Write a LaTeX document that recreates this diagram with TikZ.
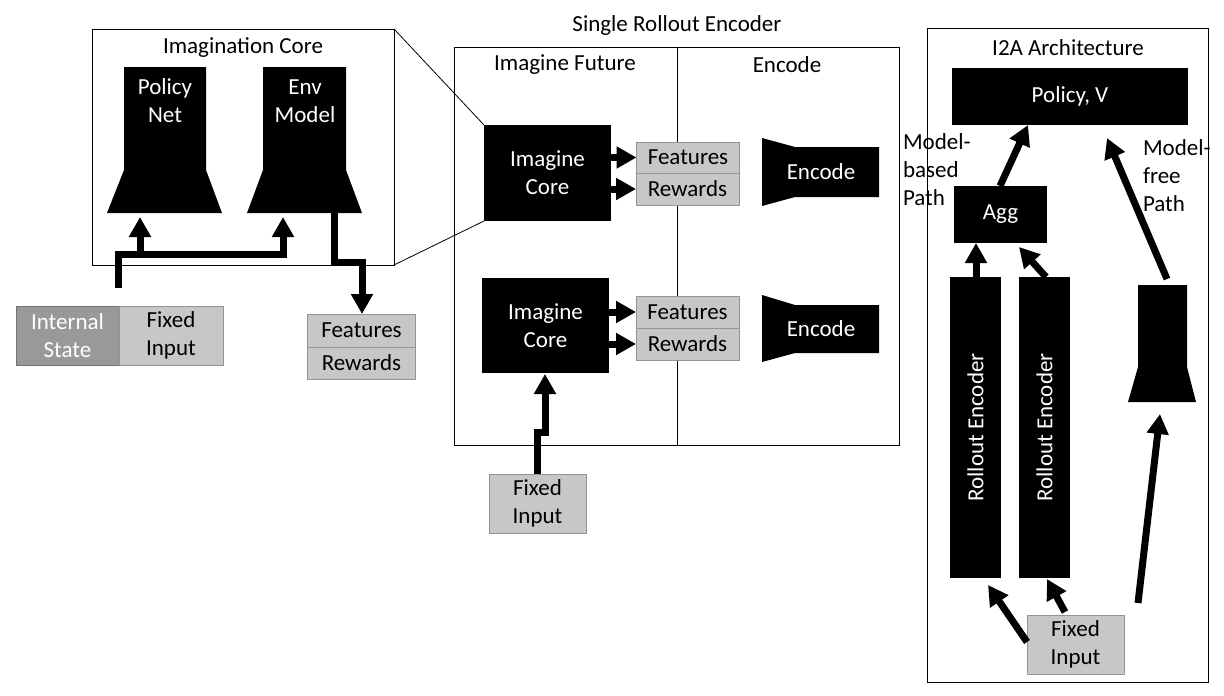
\documentclass[tikz,border=0pt]{standalone}
\usepackage{fontspec}
\setmainfont{Carlito}
\usetikzlibrary{arrows.meta}
\begin{document}
\begin{tikzpicture}[x=1pt,y=-1pt,
  every node/.style={font=\fontsize{23}{28}\selectfont, align=center, inner sep=0pt, outer sep=0pt},
  blk/.style={fill=black, draw=none, text=white},
  frame/.style={draw=black, line width=1pt},
  grayin/.style={fill=black!22, draw=black!42, line width=1pt, text=black},
  darkin/.style={fill=black!40, draw=black!55, line width=1pt, text=white},
  arr/.style={line width=7pt, draw=black, -{Triangle[width=21pt,length=20pt]}},
  zoomline/.style={draw=black, line width=0.8pt}
]
\useasboundingbox (0,0) rectangle (1224,696);

% ---------------- Imagination Core ----------------
\node[frame, minimum width=302pt, minimum height=236pt] (icbox) at (243,147) {};
\node (ictitle) at (243,48) {Imagination Core};
\fill (124,67) -- (206,67) -- (206,170) -- (222,213) -- (107,213) -- (124,170) -- cycle;
\node[text=white] (pn) at (165,101) {Policy\\Net};
\fill (263,67) -- (346,67) -- (346,170) -- (362,213) -- (247,213) -- (263,170) -- cycle;
\node[text=white] (em) at (305,101) {Env\\Model};
\coordinate (pnin) at (140,217);
\coordinate (emin) at (283,217);
\coordinate (emout) at (334,213);

\node[darkin, minimum width=103pt, minimum height=59pt] (is) at (67.5,335.5) {Internal\\State};
\node[grayin, minimum width=104pt, minimum height=59pt] (fi1) at (171,335.5) {Fixed\\Input};
\coordinate (isout) at (118,288);

\node[grayin, minimum width=108pt, minimum height=33pt] (f0) at (361.5,330.5) {Features};
\node[grayin, minimum width=108pt, minimum height=32pt] (r0) at (361.5,363) {Rewards};

\draw[arr] (isout) |- (283,254) -- (emin);
\draw[arr] (140,254) -- (pnin);
\draw[arr] (emout) |- (362,262) -- (f0.north -| 362,0);

% ---------------- Single Rollout Encoder ----------------
\node (srtitle) at (677,25) {Single Rollout Encoder};
\node[frame, minimum width=445pt, minimum height=398pt] (srbox) at (676.5,246) {};
\draw[line width=1pt] (srbox.north) ++(0.5,0) coordinate (dtop) -- (dtop |- srbox.south);
\node (hif) at (565,65) {Imagine Future};
\node (henc) at (787,65) {Encode};

\node[blk, minimum width=127pt, minimum height=96pt] (ic1) at (547.5,173) {Imagine\\Core};
\node[blk, minimum width=127pt, minimum height=95pt] (ic2) at (545.5,325.5) {Imagine\\Core};

\draw[zoomline] (icbox.north east) -- (ic1.north west);
\draw[zoomline] (icbox.south east) -- (ic1.south west);

\node[grayin, minimum width=103pt, minimum height=31pt] (f1) at (688,157.5) {Features};
\node[grayin, minimum width=103pt, minimum height=32pt] (r1) at (687.5,189) {Rewards};
\node[grayin, minimum width=103pt, minimum height=32pt] (f2) at (687.5,312) {Features};
\node[grayin, minimum width=103pt, minimum height=32pt] (r2) at (687.5,344) {Rewards};

\draw[arr] (ic1.east |- f1) -- (f1.west);
\draw[arr] (ic1.east |- r1) -- (r1.west);
\draw[arr] (ic2.east |- f2) -- (f2.west);
\draw[arr] (ic2.east |- r2) -- (r2.west);

\fill (762,138) -- (795,147) -- (879,147) -- (879,197) -- (795,197) -- (762,206) -- cycle;
\node[text=white] (enc1) at (821,172) {Encode};
\fill (762,295) -- (795,305) -- (879,305) -- (879,353) -- (795,353) -- (762,362) -- cycle;
\node[text=white] (enc2) at (821,329) {Encode};

\node[grayin, minimum width=97pt, minimum height=59pt] (fi2) at (537.5,503.5) {Fixed\\Input};
\draw[arr] (fi2.north) |- (545,432) -- (545,374);

% ---------------- I2A Architecture ----------------
\node[frame, minimum width=281pt, minimum height=654pt] (i2abox) at (1067.5,355) {};
\node (i2atitle) at (1068,48) {I2A Architecture};
\node[blk, minimum width=236pt, minimum height=57pt] (pv) at (1070,96) {Policy, V};
\node[blk, minimum width=93pt, minimum height=57pt] (agg) at (1000.5,214.5) {Agg};
\node[blk, minimum width=51pt, minimum height=301pt] (re1) at (975.5,427.5) {};
\node[text=white, rotate=90] at (re1.center) {Rollout Encoder};
\node[blk, minimum width=51pt, minimum height=301pt] (re2) at (1044.5,427.5) {};
\node[text=white, rotate=90] at (re2.center) {Rollout Encoder};
\fill (1138,285) -- (1187,285) -- (1187,367) -- (1196,402) -- (1128,402) -- (1138,367) -- cycle;
\coordinate (mftop) at (1167,279);
\coordinate (mfin) at (1160,414);

\node[grayin, minimum width=97pt, minimum height=59pt] (fi3) at (1075.5,644.5) {Fixed\\Input};

\node[anchor=west, align=left] (mbp) at (903,170) {Model-\\based\\Path};
\node[anchor=west, align=left] (mfp) at (1143,176) {Model-\\free\\Path};

\draw[arr] (1000,186) -- (1028,125);
\draw[arr] (976,277) -- (976,243);
\draw[arr] (1046,277) -- (1019,247);
\draw[arr] (mftop) -- (1107,138);
\draw[arr] (1027,642) -- (988,585);
\draw[arr] (1065,612) -- (1047,579);
\draw[arr] (1138,603) -- (mfin);
\end{tikzpicture}
\end{document}
